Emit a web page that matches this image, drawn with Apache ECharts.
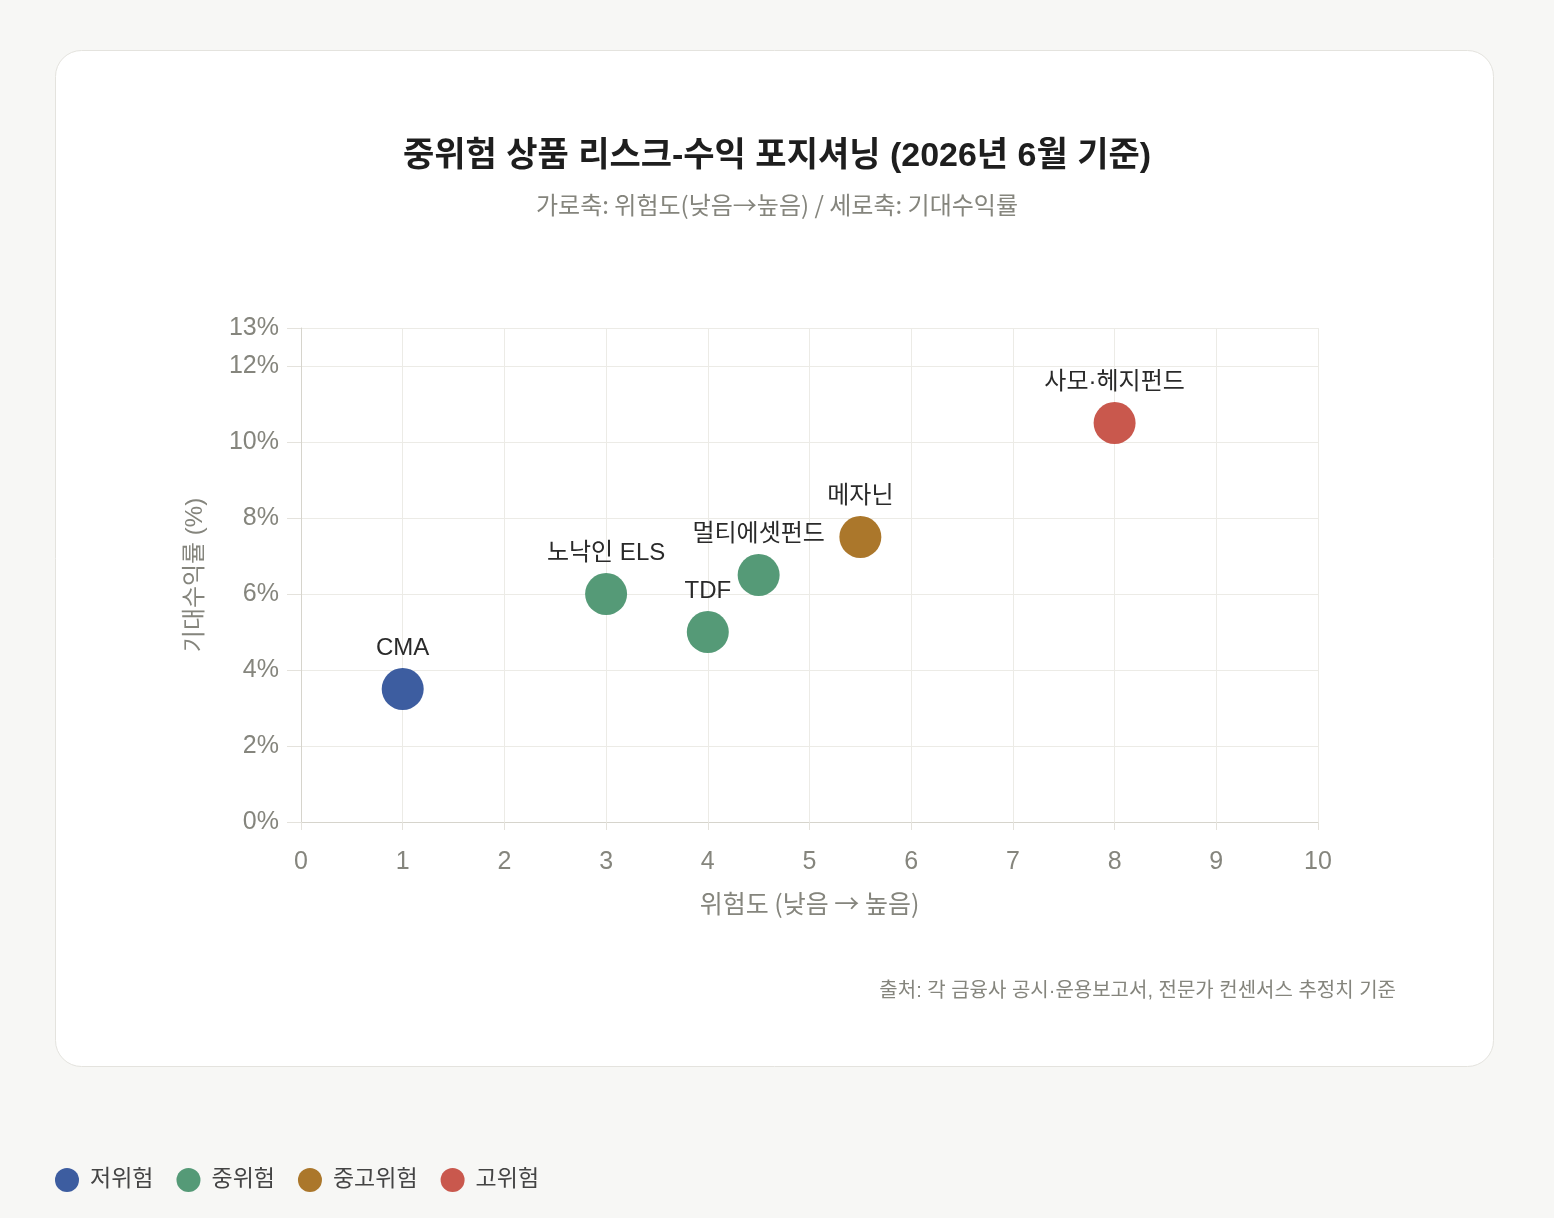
<!DOCTYPE html>
<html><head><meta charset="utf-8">
<script src="https://cdn.jsdelivr.net/npm/echarts@6/dist/echarts.min.js"></script>
<style>html,body{margin:0;padding:0;background:#f7f7f5}#c{width:1554px;height:1218px}</style>
</head><body><div id="c"></div>
<script>
const FONT = '"Liberation Sans","Noto Sans CJK KR",sans-serif';
const FONT_KR = '"Noto Sans CJK KR","Liberation Sans",sans-serif';
const titleText = '중위험 상품 리스크-수익 포지셔닝 (2026년 6월 기준)';
const subtitleText = '가로축: 위험도(낮음→높음) / 세로축: 기대수익률';
const sourceText = '출처: 각 금융사 공시·운용보고서, 전문가 컨센서스 추정치 기준';
const xAxisName = '위험도 (낮음 → 높음)';
const yAxisName = '기대수익률 (%)';
const groups = ['저위험', '중위험', '중고위험', '고위험'];
const groupColors = ['#3d5da0', '#559a77', '#ab772b', '#c9584d'];
// [name, risk, expected return %]
const lowRisk = [['CMA', 1, 3.5]];
const midRisk = [['노낙인 ELS', 3, 6.0], ['TDF', 4, 5.0], ['멀티에셋펀드', 4.5, 6.5]];
const midHighRisk = [['메자닌', 5.5, 7.5]];
const highRisk = [['사모·헤지펀드', 8, 10.5]];
const groupData = [lowRisk, midRisk, midHighRisk, highRisk];

const chart = echarts.init(document.getElementById('c'));
chart.setOption({
  backgroundColor: '#f7f7f5',
  textStyle: { fontFamily: FONT },
  graphic: [{
    type: 'rect', z: -10, silent: true,
    shape: { x: 55.5, y: 50.5, width: 1438, height: 1016, r: 26 },
    style: { fill: '#ffffff', stroke: '#e4e3de', lineWidth: 1 }
  }],
  title: [
    { text: titleText, left: 'center', top: 135,
      textStyle: { fontSize: 34, fontWeight: 'bold', color: '#1e1e1e', fontFamily: FONT } },
    { text: subtitleText, left: 'center', top: 188,
      textStyle: { fontSize: 24, fontWeight: 'normal', color: '#85857d', fontFamily: FONT_KR } },
    { text: sourceText, right: 153, top: 976,
      textStyle: { fontSize: 20, fontWeight: 'normal', color: '#85857d', fontFamily: FONT } }
  ],
  legend: {
    left: 55, top: 1168, padding: 0, icon: 'circle', itemWidth: 24, itemHeight: 24, itemGap: 23,
    data: groups,
    textStyle: { fontSize: 23, color: '#444', fontFamily: FONT, padding: [0, 0, 0, 6] }
  },
  grid: { left: 301, right: 236, top: 328, bottom: 396 },
  xAxis: {
    type: 'value', min: 0, max: 10, interval: 1,
    name: xAxisName, nameLocation: 'middle', nameGap: 69,
    nameTextStyle: { fontSize: 25, color: '#85857d', fontFamily: FONT_KR },
    axisLine: { show: true, lineStyle: { color: '#d6d4cc' } },
    axisTick: { show: true, length: 8, lineStyle: { color: '#e4e2dc' } },
    axisLabel: { fontSize: 25, color: '#85857d', margin: 28, fontFamily: FONT },
    splitLine: { show: true, lineStyle: { color: '#ecebe6' } }
  },
  yAxis: {
    type: 'value', min: 0, max: 13, interval: 2,
    name: yAxisName, nameLocation: 'middle', nameGap: 94, nameRotate: 90,
    nameTextStyle: { fontSize: 24, color: '#85857d', fontFamily: FONT },
    axisLine: { show: true, lineStyle: { color: '#d6d4cc' } },
    axisTick: { show: true, length: 14, lineStyle: { color: '#e4e2dc' } },
    axisLabel: { fontSize: 25, color: '#85857d', margin: 22, formatter: '{value}%', fontFamily: FONT,
      padding: [4, 0, 0, 0] },
    splitLine: { show: true, lineStyle: { color: '#ecebe6' } }
  },
  series: groups.map((g, i) => ({
    name: g, type: 'scatter', symbolSize: 42,
    itemStyle: { color: groupColors[i], opacity: 1 },
    label: { show: true, position: 'top', distance: 8, formatter: '{b}',
      fontSize: 24, color: '#2a2a2a', fontFamily: FONT },
    data: groupData[i].map(d => ({ name: d[0], value: [d[1], d[2]] }))
  }))
});
</script></body></html>
